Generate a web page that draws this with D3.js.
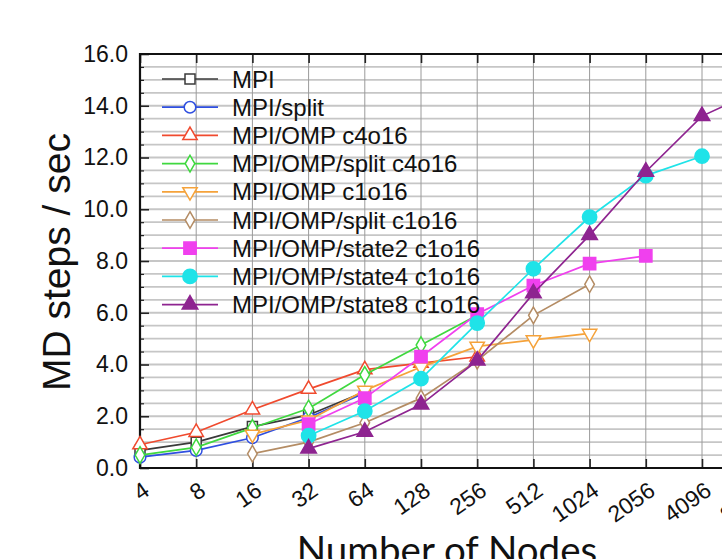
<!DOCTYPE html>
<html>
<head>
<meta charset="utf-8">
<script src="https://d3js.org/d3.v7.min.js"></script>
<style>
  html, body { margin: 0; padding: 0; background: #fff; overflow: hidden; }
  text { font-family: "Liberation Sans", Arial, sans-serif; fill: #111; }
</style>
</head>
<body>
<svg id="chart" width="722" height="559"></svg>
<script>
const nodes = ['4', '8', '16', '32', '64', '128', '256', '512', '1024', '2056', '4096', '8192'];
const yTicks = [0, 2, 4, 6, 8, 10, 12, 14, 16];

const seriesNames = ['MPI', 'MPI/split', 'MPI/OMP c4o16', 'MPI/OMP/split c4o16', 'MPI/OMP c1o16',
  'MPI/OMP/split c1o16', 'MPI/OMP/state2 c1o16', 'MPI/OMP/state4 c1o16', 'MPI/OMP/state8 c1o16'];
const seriesColors = ['#3a3a3a', '#2f4fe0', '#f04a2e', '#3fd83f', '#f5a23a', '#b48c64', '#f040ee', '#1fe3e8', '#8e2490'];
const seriesMarkers = ['square', 'circle', 'triangle', 'diamond', 'triangleDown', 'diamond', 'square', 'circle', 'triangle'];
const seriesFilled = [false, false, false, false, false, false, true, true, true];

// values per node count (null = not measured)
const mpi       = [0.68, 1.0, 1.6, 2.05, 2.95];
const mpiSplit  = [0.42, 0.68, 1.17, 1.95, 2.9];
const ompC4     = [0.9, 1.38, 2.25, 3.05, 3.8, 4.05, 4.3];
const ompSplitC4 = [0.5, 0.8, 1.55, 2.3, 3.6, 4.75, 5.9];
const ompC1     = [null, null, 1.3, 1.85, 3.0, 3.9, 4.7, 4.95, 5.2];
const ompSplitC1 = [null, null, 0.55, 1.0, 1.75, 2.7, 4.15, 5.9, 7.1];
const state2    = [null, null, null, 1.7, 2.7, 4.3, 5.95, 7.05, 7.9, 8.2];
const state4    = [null, null, null, 1.25, 2.2, 3.45, 5.6, 7.7, 9.7, 11.3, 12.05];
const state8    = [null, null, null, 0.75, 1.4, 2.45, 4.15, 6.75, 9.0, 11.45, 13.6, 14.6];
const seriesValues = [mpi, mpiSplit, ompC4, ompSplitC4, ompC1, ompSplitC1, state2, state4, state8];

const svg = d3.select('#chart');
const x = d3.scalePoint().domain(nodes).range([140, 140 + 56.2 * (nodes.length - 1)]);
const y = d3.scaleLinear().domain([0, 16]).range([468, 54]);
const xRight = 780;

// horizontal grid every 0.5
const hGrid = d3.range(0.5, 16, 0.5);
svg.append('g').selectAll('line').data(hGrid).join('line')
  .attr('x1', x.range()[0]).attr('x2', xRight)
  .attr('y1', d => y(d)).attr('y2', d => y(d))
  .attr('stroke', '#c6c6c6').attr('stroke-width', 1.8);

// vertical grid
svg.append('g').selectAll('line').data(nodes.slice(1)).join('line')
  .attr('x1', d => x(d)).attr('x2', d => x(d))
  .attr('y1', y(0)).attr('y2', y(16))
  .attr('stroke', '#9a9a9a').attr('stroke-width', 1);

// axes
const yAxisMajor = d3.axisLeft(y).tickValues(yTicks).tickSize(-9).tickFormat(d3.format('.1f')).tickPadding(12);
const gy = svg.append('g').attr('transform', `translate(${x.range()[0]},0)`).call(yAxisMajor);
gy.select('.domain').remove();
gy.selectAll('line').attr('stroke', '#222').attr('stroke-width', 1.6);
gy.selectAll('text').attr('font-size', 23).attr('fill', '#111')
  .attr('font-family', '"Liberation Sans", Arial, sans-serif');

const yMinor = d3.axisLeft(y).tickValues(d3.range(0.5, 16, 0.5).filter(v => v % 2 !== 0)).tickSize(-4).tickFormat('');
const gym = svg.append('g').attr('transform', `translate(${x.range()[0]},0)`).call(yMinor);
gym.select('.domain').remove();
gym.selectAll('line').attr('stroke', '#222').attr('stroke-width', 1.2);

const xAxis = d3.axisBottom(x).tickSize(-9).tickFormat('');
const gx = svg.append('g').attr('transform', `translate(0,${y(0)})`).call(xAxis);
gx.select('.domain').remove();
gx.selectAll('line').attr('stroke', '#222').attr('stroke-width', 1.6);

const xTop = d3.axisTop(x).tickSize(-9).tickFormat('');
const gxt = svg.append('g').attr('transform', `translate(0,${y(16)})`).call(xTop);
gxt.select('.domain').remove();
gxt.selectAll('line').attr('stroke', '#222').attr('stroke-width', 1.6);

// frame
svg.append('line').attr('x1', x.range()[0]).attr('x2', xRight).attr('y1', y(0)).attr('y2', y(0))
  .attr('stroke', '#111').attr('stroke-width', 2.2);
svg.append('line').attr('x1', x.range()[0]).attr('x2', xRight).attr('y1', y(16)).attr('y2', y(16))
  .attr('stroke', '#111').attr('stroke-width', 2.2);
svg.append('line').attr('x1', x.range()[0]).attr('x2', x.range()[0]).attr('y1', y(0) + 1).attr('y2', y(16) - 1)
  .attr('stroke', '#111').attr('stroke-width', 2.2);

// x tick labels, rotated
svg.append('g').selectAll('text').data(nodes).join('text')
  .attr('transform', d => `translate(${x(d) + 11},${494}) rotate(-35)`)
  .attr('text-anchor', 'end')
  .attr('font-size', 23)
  .text(d => d);

// axis titles
svg.append('text')
  .attr('transform', `translate(70,${262}) rotate(-90)`)
  .attr('text-anchor', 'middle')
  .attr('font-size', 39)
  .text('MD steps / sec');

svg.append('text')
  .attr('x', 447).attr('y', 564)
  .attr('text-anchor', 'middle')
  .attr('font-size', 38.5)
  .style('font-family', 'Lato, "Open Sans", sans-serif')
  .text('Number of Nodes');

// markers
function markerPath(kind, filled) {
  const map = {
    square: [d3.symbolSquare, filled ? 150 : 100],
    circle: [d3.symbolCircle, filled ? 160 : 105],
    triangle: [d3.symbolTriangle, filled ? 105 : 90],
    triangleDown: [d3.symbolTriangle, 90],
    diamond: [d3.symbolDiamond, 80]
  };
  const [type, size] = map[kind];
  return d3.symbol().type(type).size(size)();
}

const line = d3.line()
  .defined(d => d.v !== null && d.v !== undefined)
  .x(d => x(d.n)).y(d => y(d.v));

const plot = svg.append('g');
seriesNames.forEach((name, i) => {
  const pts = seriesValues[i].map((v, j) => ({ n: nodes[j], v: v }));
  const color = seriesColors[i];
  const g = plot.append('g');
  g.append('path').datum(pts).attr('d', line)
    .attr('fill', 'none').attr('stroke', color).attr('stroke-width', 1.7);
  g.selectAll('path.m').data(pts.filter(p => p.v !== null)).join('path')
    .attr('class', 'm')
    .attr('d', markerPath(seriesMarkers[i], seriesFilled[i]))
    .attr('transform', d => `translate(${x(d.n)},${y(d.v)})` + (seriesMarkers[i] === 'triangleDown' ? ' rotate(180)' : ''))
    .attr('fill', seriesFilled[i] ? color : '#fff')
    .attr('stroke', color).attr('stroke-width', 1.5);
});

// legend
const legend = svg.append('g');
seriesNames.forEach((name, i) => {
  const ly = 79 + 28.2 * i;
  const color = seriesColors[i];
  legend.append('line').attr('x1', 162).attr('x2', 218).attr('y1', ly).attr('y2', ly)
    .attr('stroke', color).attr('stroke-width', 1.7);
  legend.append('path')
    .attr('d', markerPath(seriesMarkers[i], seriesFilled[i]))
    .attr('transform', `translate(190,${ly})` + (seriesMarkers[i] === 'triangleDown' ? ' rotate(180)' : ''))
    .attr('fill', seriesFilled[i] ? color : '#fff')
    .attr('stroke', color).attr('stroke-width', 1.5);
  legend.append('text').attr('x', 232).attr('y', ly).attr('dy', '0.36em')
    .attr('font-size', 24).text(name);
});
</script>
</body>
</html>
